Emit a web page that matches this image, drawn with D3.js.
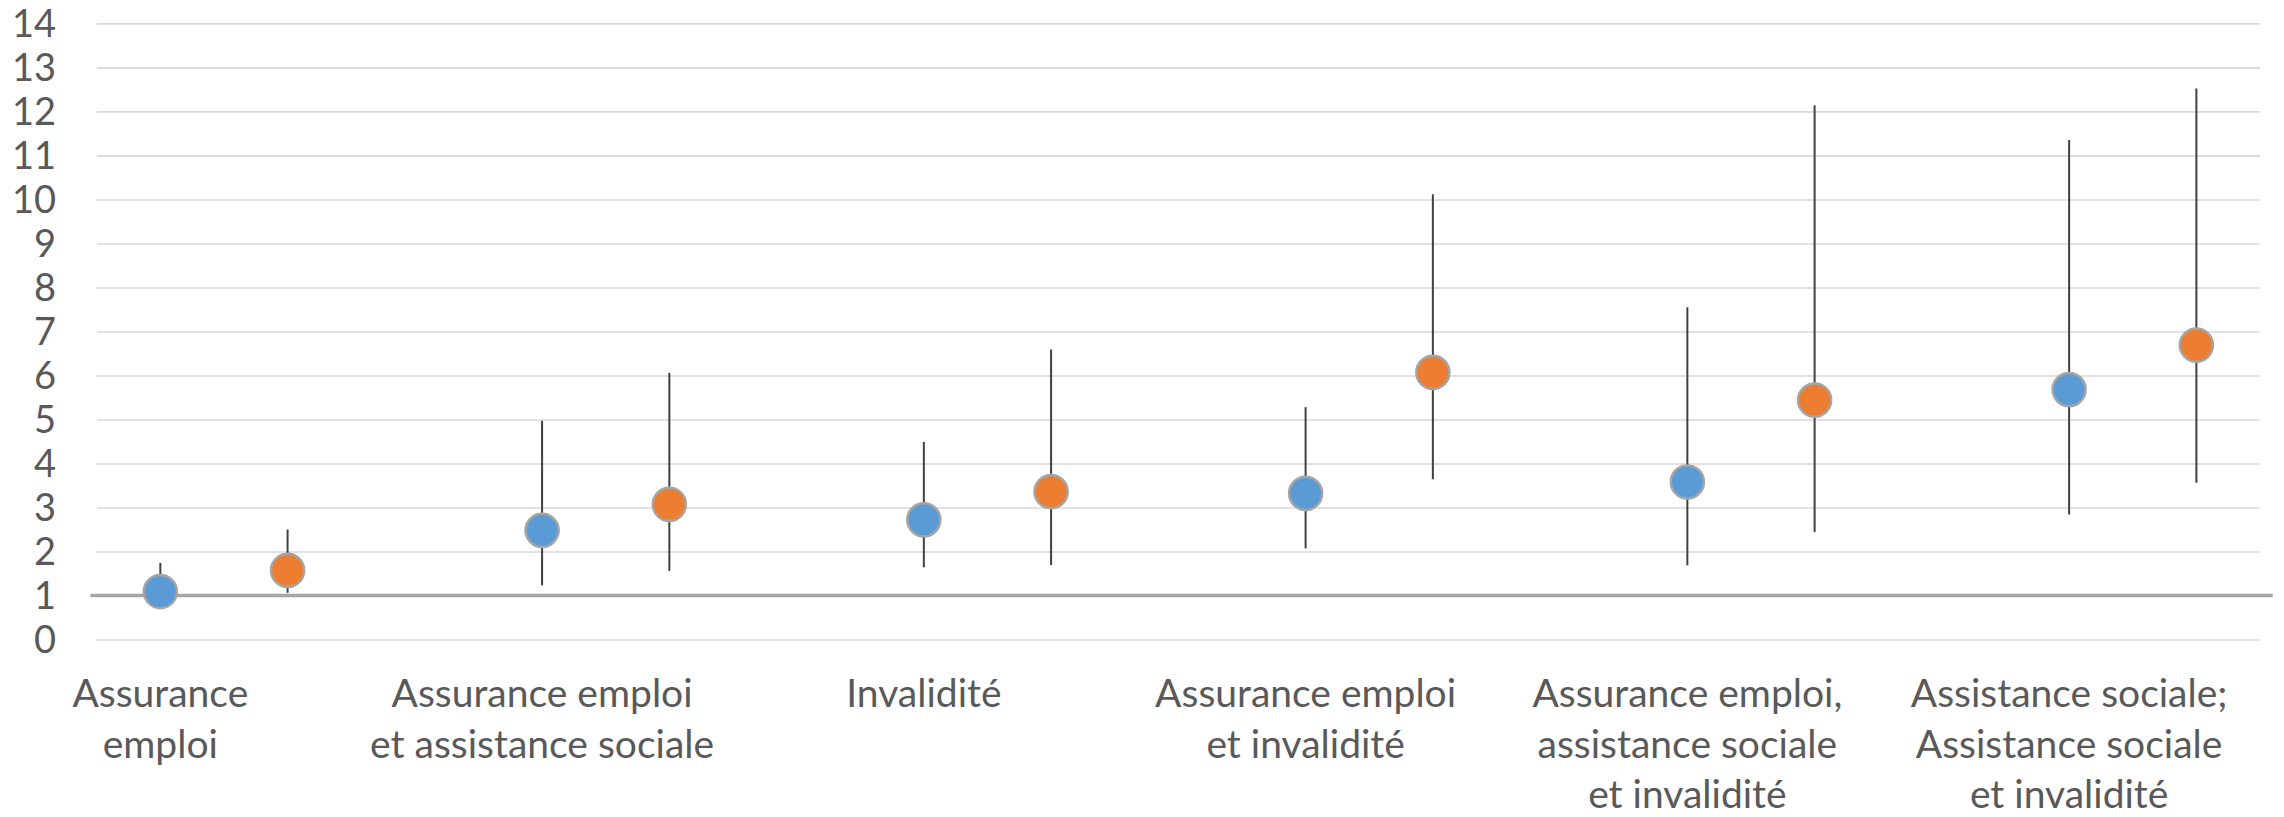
<!DOCTYPE html>
<html>
<head>
<meta charset="utf-8">
<script src="https://cdn.jsdelivr.net/npm/d3@7"></script>
<style>
  html, body { margin: 0; padding: 0; background: #ffffff; }
  svg { display: block; }
  text { font-family: Lato, "Open Sans", "Liberation Sans", sans-serif; fill: #595959; }
</style>
</head>
<body>
<svg id="chart" width="2284" height="817"></svg>
<script>
// ---------- data ----------
const categories = [
  ["Assurance", "emploi"],
  ["Assurance emploi", "et assistance sociale"],
  ["Invalidité"],
  ["Assurance emploi", "et invalidité"],
  ["Assurance emploi,", "assistance sociale", "et invalidité"],
  ["Assistance sociale;", "Assistance sociale", "et invalidité"]
];
const blueX   = [1, 4, 7, 10, 13, 16];
const orangeX = [2, 5, 8, 11, 14, 17];

const blueValues = [1.09, 2.48, 2.72, 3.32, 3.58, 5.68];
const blueLow    = [0.69, 1.23, 1.64, 2.07, 1.69, 2.84];
const blueHigh   = [1.74, 4.97, 4.49, 5.28, 7.55, 11.35];

const orangeValues = [1.57, 3.07, 3.36, 6.07, 5.44, 6.69];
const orangeLow    = [1.06, 1.56, 1.69, 3.64, 2.44, 3.56];
const orangeHigh   = [2.50, 6.06, 6.59, 10.12, 12.14, 12.52];

const yTicks = [0, 1, 2, 3, 4, 5, 6, 7, 8, 9, 10, 11, 12, 13, 14];
const referenceValue = 1;

// ---------- layout ----------
const svg = d3.select("#chart");
const x = d3.scaleLinear().domain([0.5, 17.5]).range([96.7, 2260]);
const y = d3.scaleLinear().domain([0, 14]).range([639.5, 23.4]);

// gridlines
const grid = svg.append("g")
  .attr("transform", `translate(${x.range()[0]},0)`)
  .call(d3.axisLeft(y).tickValues(yTicks).tickSize(-(x.range()[1] - x.range()[0])).tickFormat(""));
grid.select(".domain").remove();
grid.selectAll(".tick line").attr("stroke", "#d9d9d9").attr("stroke-width", 1.6);

// tick labels
const yAxis = svg.append("g")
  .attr("transform", `translate(56,0)`)
  .call(d3.axisLeft(y).tickValues(yTicks).tickSize(0).tickPadding(0));
yAxis.select(".domain").remove();
yAxis.selectAll(".tick text")
  .attr("font-size", 38)
  .attr("fill", "#595959")
  .attr("font-family", "Lato, 'Open Sans', sans-serif")
  .attr("dy", "0.35em");

// reference line at 1
svg.append("line")
  .attr("x1", x(0.45)).attr("x2", x(17.6))
  .attr("y1", y(referenceValue)).attr("y2", y(referenceValue))
  .attr("stroke", "#a6a6a6").attr("stroke-width", 3.4);

// series
const series = [
  { xs: blueX, v: blueValues, lo: blueLow, hi: blueHigh, color: "#5b9bd5" },
  { xs: orangeX, v: orangeValues, lo: orangeLow, hi: orangeHigh, color: "#ed7d31" }
];

series.forEach(s => {
  const pts = s.xs.map((xv, i) => ({ x: xv, v: s.v[i], lo: s.lo[i], hi: s.hi[i] }));
  svg.append("g").selectAll("line").data(pts).join("line")
    .attr("x1", d => x(d.x)).attr("x2", d => x(d.x))
    .attr("y1", d => y(d.lo)).attr("y2", d => y(d.hi))
    .attr("stroke", "#404040").attr("stroke-width", 2);
});
series.forEach(s => {
  const pts = s.xs.map((xv, i) => ({ x: xv, v: s.v[i] }));
  svg.append("g").selectAll("circle").data(pts).join("circle")
    .attr("cx", d => x(d.x)).attr("cy", d => y(d.v))
    .attr("r", 16.6)
    .attr("fill", s.color)
    .attr("stroke", "#a5a5a5").attr("stroke-width", 2.4);
});

// category labels (centred under the first series point of each group)
const labelG = svg.append("g");
categories.forEach((lines, i) => {
  const t = labelG.append("text")
    .attr("x", x(blueX[i]))
    .attr("y", 707)
    .attr("text-anchor", "middle")
    .attr("font-size", 39);
  lines.forEach((ln, j) => {
    t.append("tspan").attr("x", x(blueX[i])).attr("dy", j === 0 ? 0 : 50.5).text(ln);
  });
});
</script>
</body>
</html>
